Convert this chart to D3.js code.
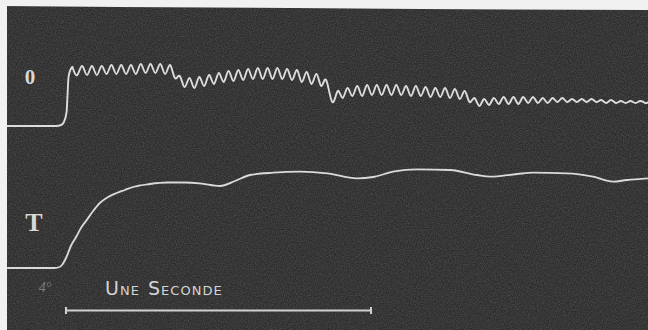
<!DOCTYPE html>
<html>
<head>
<meta charset="utf-8">
<script src="https://cdn.jsdelivr.net/npm/d3@7"></script>
<style>
  html, body { margin: 0; padding: 0; background: #f2f2f2; }
  svg { display: block; }
</style>
</head>
<body>
<svg id="trace" width="648" height="330"></svg>
<script>
// tracé 0 : [temps en ms, déplacement]
const tremorRise = [
  [-193, 0], [-33, 0], [-16, 1], [-7, 4], [2, 14], [5, 31], [8, 48], [13, 55], [21, 59]
];
const tremorWave = [
  [21, 59], [37, 51], [53, 60], [69, 51], [85, 60], [101, 51], [117, 60], [133, 52],
  [149, 61], [165, 52], [181, 61], [197, 52], [213, 61], [229, 52], [245, 62], [261, 53],
  [277, 62], [293, 53], [309, 62], [325, 52], [341, 61], [357, 48],
  [373, 50], [389, 39], [405, 48], [421, 38], [437, 49], [453, 40], [469, 51], [485, 42],
  [501, 53], [517, 44], [533, 55], [549, 45], [565, 56], [581, 46], [597, 57], [613, 47],
  [629, 58], [645, 47], [661, 58], [677, 47], [693, 58], [709, 47], [725, 57], [741, 46],
  [757, 56], [773, 44], [789, 54], [805, 42], [821, 52], [837, 40], [853, 46], [873, 24],
  [891, 35], [907, 28], [923, 38], [939, 30],
  [955, 40], [971, 30], [987, 41], [1003, 31], [1019, 41], [1035, 31], [1051, 41], [1067, 31],
  [1083, 41], [1099, 31], [1115, 40], [1131, 30], [1147, 40], [1163, 30], [1179, 39], [1195, 29],
  [1211, 38], [1227, 29], [1243, 38], [1259, 28], [1275, 37], [1291, 27], [1307, 35], [1323, 24],
  [1339, 28], [1355, 20], [1371, 27], [1387, 21], [1403, 28], [1419, 22],
  [1435, 29], [1451, 22], [1467, 29], [1483, 22], [1499, 29], [1515, 23], [1531, 29], [1547, 23],
  [1563, 28], [1579, 23], [1595, 28], [1611, 24], [1627, 28], [1643, 24], [1659, 27], [1675, 24],
  [1691, 27], [1707, 24], [1723, 27], [1739, 24], [1755, 26], [1771, 23], [1787, 26], [1803, 23],
  [1819, 25], [1835, 23], [1851, 25], [1867, 23], [1883, 25], [1899, 23], [1910, 24]
];

// tracé T
const tensionTrace = [
  [-193, 0], [-39, 0], [-26, 0.5], [-13, 3], [0, 10], [16, 22], [35, 32], [49, 40],
  [68, 48], [89, 57], [111, 65], [138, 71], [166, 75], [193, 78], [220, 81], [275, 84],
  [331, 85.5], [390, 85.5], [439, 84.7], [505, 82], [554, 87], [603, 93], [679, 95.3],
  [767, 96.3], [856, 94.7], [954, 89.7], [1007, 91], [1072, 96.3], [1151, 98.7],
  [1259, 98], [1348, 93], [1390, 91.3], [1479, 94], [1531, 95.3], [1643, 94.7],
  [1728, 91.3], [1793, 86.3], [1839, 88], [1908, 89.7]
];

const traceLabels = ['0', 'T'];
const scaleBar = [0, 1000];          // une seconde
const scaleWords = [['U', 'NE'], ['S', 'ECONDE']];
const cornerMark = '4°';

const svg = d3.select('#trace');
const width = 648, height = 330;

// fond : papier noirci
const defs = svg.append('defs');
const grain = defs.append('filter').attr('id', 'grain')
  .attr('x', 0).attr('y', 0).attr('width', 1).attr('height', 1);
grain.append('feTurbulence')
  .attr('type', 'fractalNoise')
  .attr('baseFrequency', 0.85)
  .attr('numOctaves', 2)
  .attr('seed', 4);
grain.append('feColorMatrix')
  .attr('type', 'matrix')
  .attr('values', '0 0 0 0 0.75  0 0 0 0 0.75  0 0 0 0 0.75  0.33 0.33 0.33 0 -0.38');

svg.append('rect')
  .attr('x', 0).attr('y', 0)
  .attr('width', width).attr('height', height)
  .attr('fill', '#2d2d2d');
svg.append('rect')
  .attr('x', 0).attr('y', 0)
  .attr('width', width).attr('height', height)
  .attr('filter', 'url(#grain)')
  .attr('opacity', 0.5);

// bords blancs (haut et gauche)
svg.append('path')
  .attr('d', 'M0,0 L648,0 L648,10 L420,9 L290,8 L120,7 L0,6 Z')
  .attr('fill', '#f1f1f1');
svg.append('rect')
  .attr('x', 0).attr('y', 0)
  .attr('width', 7).attr('height', height)
  .attr('fill', '#f1f1f1');

const xScale = d3.scaleLinear()
  .domain([0, 1000])
  .range([66, 371]);

const yTop = d3.scaleLinear()
  .domain([0, 60])
  .range([126, 66]);

const yBottom = d3.scaleLinear()
  .domain([0, 100])
  .range([268, 168]);

const riseLine = d3.line()
  .x(d => xScale(d[0]))
  .y(d => yTop(d[1]))
  .curve(d3.curveMonotoneX);

const waveLine = d3.line()
  .x(d => xScale(d[0]))
  .y(d => yTop(d[1]))
  .curve(d3.curveNatural);

const bottomLine = d3.line()
  .x(d => xScale(d[0]))
  .y(d => yBottom(d[1]))
  .curve(d3.curveMonotoneX);

const topG = svg.append('g')
  .attr('fill', 'none')
  .attr('stroke', '#dcdcdc')
  .attr('stroke-width', 1.9)
  .attr('stroke-linejoin', 'round')
  .attr('stroke-linecap', 'round');
topG.append('path').attr('d', riseLine(tremorRise));
topG.append('path').attr('d', waveLine(tremorWave));

svg.append('path')
  .attr('d', bottomLine(tensionTrace))
  .attr('fill', 'none')
  .attr('stroke', '#dadada')
  .attr('stroke-width', 1.8);

// lettres des tracés
svg.append('text')
  .text(traceLabels[0])
  .attr('x', 30).attr('y', 84)
  .attr('text-anchor', 'middle')
  .attr('font-family', 'Liberation Serif, DejaVu Serif, serif')
  .attr('font-weight', 'bold')
  .attr('font-size', 21)
  .attr('fill', '#d8d8d8');

svg.append('text')
  .text(traceLabels[1])
  .attr('x', 34).attr('y', 231)
  .attr('text-anchor', 'middle')
  .attr('font-family', 'Liberation Serif, DejaVu Serif, serif')
  .attr('font-weight', 'bold')
  .attr('font-size', 26)
  .attr('fill', '#d8d8d8');

svg.append('text')
  .text(cornerMark)
  .attr('x', 45).attr('y', 292)
  .attr('text-anchor', 'middle')
  .attr('font-family', 'Liberation Serif, serif')
  .attr('font-style', 'italic')
  .attr('font-size', 14)
  .attr('fill', '#7a7a7a');

// échelle : une seconde
const label = svg.append('text')
  .attr('x', 105).attr('y', 295)
  .attr('font-family', 'DejaVu Sans, sans-serif')
  .attr('fill', '#d4d4d4')
  .attr('letter-spacing', 1.2)
  .attr('textLength', 118)
  .attr('lengthAdjust', 'spacing');
scaleWords.forEach((w, i) => {
  label.append('tspan')
    .attr('dx', i === 0 ? 0 : 8)
    .attr('font-size', 19)
    .text(w[0]);
  label.append('tspan')
    .attr('font-size', 13)
    .text(w[1]);
});

const barY = 310.5;
const bar = svg.append('g')
  .attr('stroke', '#d0d0d0')
  .attr('stroke-width', 2);
bar.append('line')
  .attr('x1', xScale(scaleBar[0])).attr('x2', xScale(scaleBar[1]))
  .attr('y1', barY).attr('y2', barY);
scaleBar.forEach(v => {
  bar.append('line')
    .attr('x1', xScale(v)).attr('x2', xScale(v))
    .attr('y1', barY - 3.5).attr('y2', barY + 3.5);
});
</script>
</body>
</html>
